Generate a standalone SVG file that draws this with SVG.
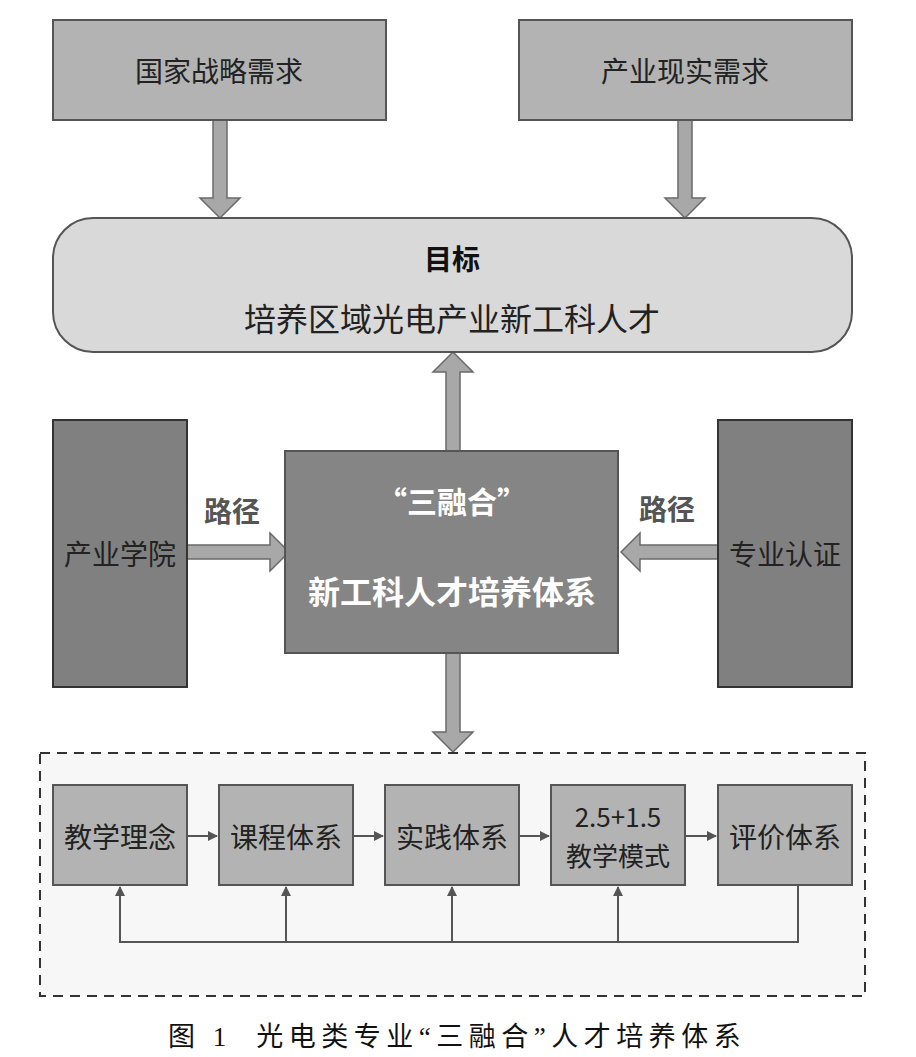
<svg xmlns="http://www.w3.org/2000/svg" width="916" height="1057" viewBox="0 0 916 1057">
<style>
.t{font-family:"Noto Sans CJK SC","Liberation Sans",sans-serif;text-anchor:middle;dominant-baseline:central;}
.box{fill:#b3b3b3;stroke:#555;stroke-width:2;}
.dark{fill:#808080;stroke:#333;stroke-width:2;}
.fat{fill:#a8a8a8;stroke:#6a6a6a;stroke-width:1.5;}
.ln{fill:none;stroke:#555;stroke-width:2;}
</style>
<defs>
<marker id="ah" markerWidth="10" markerHeight="10" refX="9" refY="5" orient="auto" markerUnits="userSpaceOnUse">
<path d="M0,0 L10,5 L0,10 z" fill="#555"/>
</marker>
</defs>
<rect width="916" height="1057" fill="#fff"/>
<g id="connectors">
<path class="fat" d="M213,120 V198 H200 L220,218 L240,198 H227 V120 z"/>
<path class="fat" d="M678,120 V198 H665 L685,218 L705,198 H692 V120 z"/>
<path class="fat" d="M446,451 V372 H433 L453,352 L473,372 H460 V451 z"/>
<path class="fat" d="M446,653 V732 H433 L453,752 L473,732 H460 V653 z"/>
<path class="fat" d="M187,545 H270 V533 L289,552 L270,571 V559 H187 z"/>
<path class="fat" d="M718,545 H640 V533 L621,552 L640,571 V559 H718 z"/>
</g>
<g id="dashed">
<rect x="40" y="753" width="825" height="243" fill="#f7f7f7" stroke="#333" stroke-width="2" stroke-dasharray="10,7"/>
</g>
<g id="n1"><rect class="box" x="53" y="20" width="333" height="100"/><text class="t" x="219" y="70" font-size="28" fill="#222">国家战略需求</text></g>
<g id="n2"><rect class="box" x="519" y="20" width="333" height="100"/><text class="t" x="685" y="70" font-size="28" fill="#222">产业现实需求</text></g>
<g id="goal"><rect x="53" y="218" width="799" height="134" rx="40" fill="#d9d9d9" stroke="#555" stroke-width="2"/>
<text class="t" x="452" y="258" font-size="28" font-weight="bold" fill="#111">目标</text>
<text class="t" x="452" y="317" font-size="32" fill="#222">培养区域光电产业新工科人才</text></g>
<g id="left"><rect class="dark" x="53" y="420" width="134" height="267"/><text class="t" x="120" y="553" font-size="28" fill="#222">产业学院</text></g>
<g id="right"><rect class="dark" x="718" y="420" width="134" height="267"/><text class="t" x="785" y="553" font-size="28" fill="#222">专业认证</text></g>
<g id="center"><rect x="285" y="451" width="333" height="202" fill="#858585" stroke="#555" stroke-width="2"/>
<text class="t" x="452" y="500" font-size="30" font-weight="bold" fill="#fff">“三融合”</text>
<text class="t" x="452" y="590" font-size="32" font-weight="bold" fill="#fff">新工科人才培养体系</text></g>
<g id="lab1"><text class="t" x="232" y="510" font-size="28" font-weight="bold" fill="#555">路径</text></g>
<g id="lab2"><text class="t" x="667" y="508" font-size="28" font-weight="bold" fill="#555">路径</text></g>
<g id="flow">
<path class="ln" d="M187,836 H217" marker-end="url(#ah)"/>
<path class="ln" d="M353,836 H383" marker-end="url(#ah)"/>
<path class="ln" d="M519,836 H549" marker-end="url(#ah)"/>
<path class="ln" d="M685,836 H716" marker-end="url(#ah)"/>
<path class="ln" d="M798,885 V942 H120 V887" marker-end="url(#ah)"/>
<path class="ln" d="M286,942 V887" marker-end="url(#ah)"/>
<path class="ln" d="M452,942 V887" marker-end="url(#ah)"/>
<path class="ln" d="M618,942 V887" marker-end="url(#ah)"/>
</g>
<g id="b1"><rect class="box" x="53" y="785" width="134" height="100"/><text class="t" x="120" y="836" font-size="28" fill="#222">教学理念</text></g>
<g id="b2"><rect class="box" x="219" y="785" width="134" height="100"/><text class="t" x="286" y="836" font-size="28" fill="#222">课程体系</text></g>
<g id="b3"><rect class="box" x="385" y="785" width="134" height="100"/><text class="t" x="452" y="836" font-size="28" fill="#222">实践体系</text></g>
<g id="b4"><rect class="box" x="551" y="785" width="134" height="100"/><text class="t" x="618" y="815" font-size="26" fill="#222">2.5+1.5</text><text class="t" x="618" y="854" font-size="26" fill="#222">教学模式</text></g>
<g id="b5"><rect class="box" x="718" y="785" width="134" height="100"/><text class="t" x="785" y="836" font-size="28" fill="#222">评价体系</text></g>
<g id="caption"><text x="168" y="1046" font-family="'Liberation Serif','Noto Sans CJK SC',serif" font-size="27" letter-spacing="5.5" fill="#111" xml:space="preserve">图 1  光电类专业“三融合”人才培养体系</text></g>
</svg>
